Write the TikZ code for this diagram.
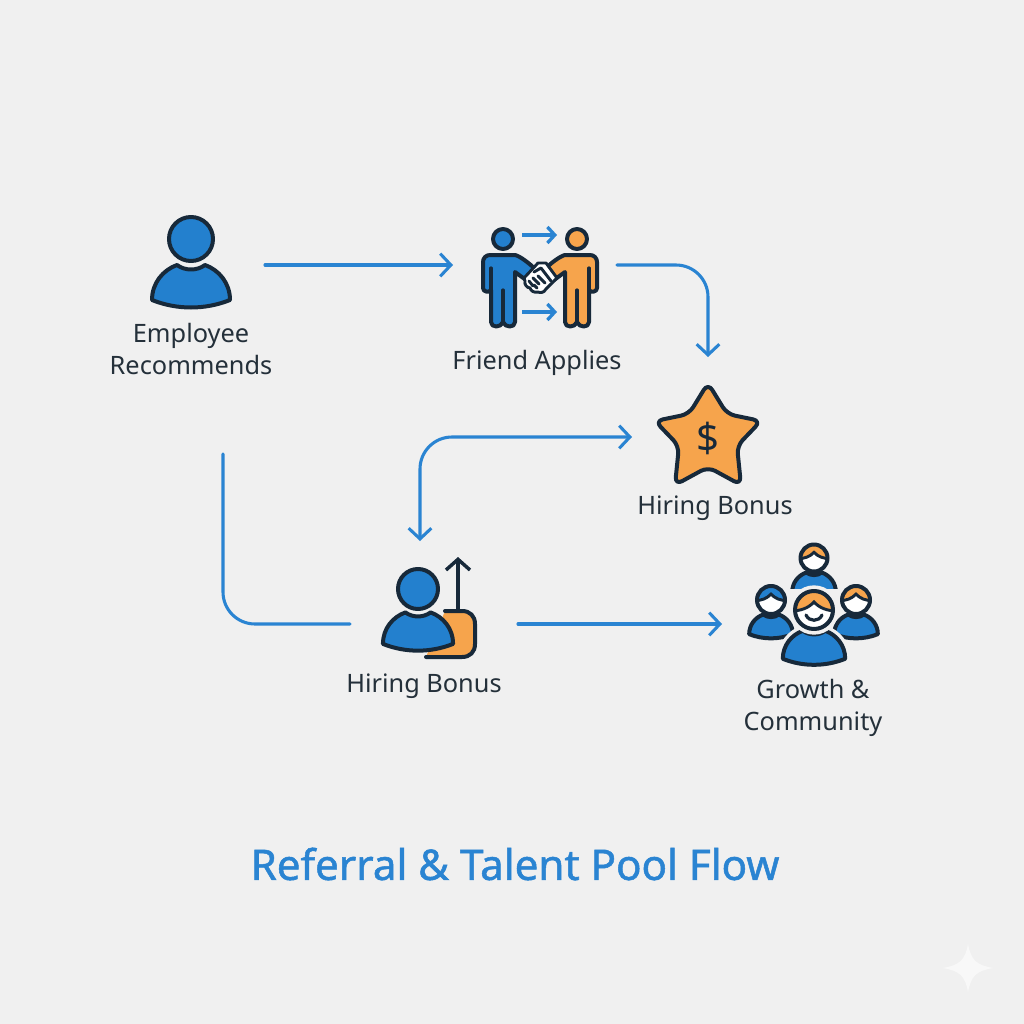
\documentclass[tikz,border=0pt]{standalone}
\usepackage{fontspec}
\setmainfont{Noto Sans}
\newfontfamily\ttlfont[FakeBold=1.2]{Noto Sans}
\usetikzlibrary{arrows.meta}
\definecolor{bgc}{HTML}{F0F0F0}
\definecolor{flow}{HTML}{2A84D2}
\definecolor{blu}{HTML}{2380CE}
\definecolor{org}{HTML}{F6A44C}
\definecolor{ink}{HTML}{17293A}
\definecolor{lab}{HTML}{24303A}
\tikzset{
 flowline/.style={draw=flow,line width=2.3pt,line cap=round,rounded corners=24pt},
 chev/.style={-{Straight Barb[length=8pt,width=17pt,line width=2.3pt]}},
 chevs/.style={{Straight Barb[length=8pt,width=17pt,line width=2.3pt]}-{Straight Barb[length=8pt,width=17pt,line width=2.3pt]}},
 minichev/.style={draw=flow,line width=2.5pt,-{Straight Barb[length=5.5pt,width=12pt,line width=2.5pt]}},
 lbl/.style={font=\fontsize{19}{23.5}\selectfont,text=lab,align=center,inner sep=0pt},
 ttl/.style={font=\ttlfont\fontsize{31.6}{36}\selectfont,text=flow,inner sep=0pt},
 inkl/.style={draw=ink,line width=3pt,line join=round,line cap=round},
 thin ink/.style={draw=ink,line width=2.2pt,line join=round,line cap=round},
}
% x y scale(head radius/22) bodyfill
\newcommand{\bustbody}[4]{%
 \begin{scope}[shift={(#1,#2)},scale=#3]
  \path[fill=#4,inkl] (-39,61) .. controls (-39,44) and (-28,31) .. (-14,26)
   .. controls (-6,32) and (6,32) .. (14,26) .. controls (28,31) and (39,44) .. (39,61)
   .. controls (14,71) and (-14,71) .. (-39,61) -- cycle;
 \end{scope}}
% x y radius haircolour
\newcommand{\hairhead}[4]{%
 \begin{scope}[shift={(#1,#2)},scale=#3]
  \fill[white] (0,0) circle (1);
  \begin{scope}\clip (0,0) circle (1);
   \path[fill=#4,draw=ink,line width=2.2pt] (-1.2,0.05) .. controls (-0.7,0.05) and (-0.3,-0.1) .. (0,-0.42)
    .. controls (0.3,-0.1) and (0.7,0.05) .. (1.2,0.05) -- (1.2,-1.2) -- (-1.2,-1.2) -- cycle;
  \end{scope}
  \draw[inkl] (0,0) circle (1);
 \end{scope}}
\begin{document}
\begin{tikzpicture}[x=0.75pt,y=-0.75pt]
\useasboundingbox (0,0) rectangle (1024,1024);
\fill[bgc] (0,0) rectangle (1024,1024);
% sparkle
\fill[white,opacity=.55] (968,944) .. controls (971,960) and (976,965) .. (993,968) .. controls (976,971) and (971,976) .. (968,992)
 .. controls (965,976) and (960,971) .. (943,968) .. controls (960,965) and (965,960) .. (968,944) -- cycle;

% Employee
\fill[blu] (191,239) circle (22);
\draw[inkl] (191,239) circle (22);
\bustbody{191}{239}{1}{blu}

% Handshake people
\path[fill=blu,inkl] (490,255) -- (515,255) .. controls (520,256) and (530,264) .. (534,268) -- (526,280) -- (515,272)
 -- (515,322) .. controls (515,328) and (505,328) .. (503,322) .. controls (501,328) and (491,328) .. (491,322) -- (491,290)
 .. controls (489,293) and (483,292) .. (483,288) -- (483,262) .. controls (483,258) and (486,255) .. (490,255) -- cycle;
\draw[inkl,line width=2.4pt] (491,268) -- (491,290) (503,290) -- (503,322);
\fill[blu] (503,239) circle (10);
\draw[inkl] (503,239) circle (10);
\path[fill=org,inkl] (590,255) -- (565,255) .. controls (560,256) and (550,264) .. (546,268) -- (554,280) -- (565,272)
 -- (565,322) .. controls (565,328) and (575,328) .. (577,322) .. controls (579,328) and (589,328) .. (589,322) -- (589,290)
 .. controls (591,293) and (597,292) .. (597,288) -- (597,262) .. controls (597,258) and (594,255) .. (590,255) -- cycle;
\draw[inkl,line width=2.4pt] (589,268) -- (589,290) (577,290) -- (577,322);
\fill[org] (577,239) circle (10);
\draw[inkl] (577,239) circle (10);
% handshake
\path[fill=white,thin ink] (538,263) -- (546,263) -- (557,278) -- (546,289) .. controls (544,293) and (540,293) .. (538,292)
 .. controls (534,293) and (531,291) .. (530,288) .. controls (527,288) and (524,284) .. (525,281) -- (524,278) -- cycle;
\draw[thin ink] (534,272) -- (541,268) -- (551,281) (529,281) -- (533,286) (533,278) -- (539,284) (538,276) -- (545,283) (537,288) -- (534,285);
\coordinate (ma) at (522,235); \coordinate (mb) at (557,235);
\coordinate (mc) at (522,312); \coordinate (md) at (557,312);
\draw[minichev] (ma) -- (mb);
\draw[minichev] (mc) -- (md);

% Star
\path[fill=org,inkl,rounded corners=6pt] (708,383) -- (727,414) -- (761,421) -- (737,446) -- (741,485) -- (708,467) -- (675,485) -- (679,446) -- (655,421) -- (689,414) -- cycle;
\node[inner sep=0pt,text=ink,font=\fontsize{30}{30}\selectfont] (dollar) at (708,438) {\$};

% Hiring bonus icon
\path[fill=org,inkl] (445,611) -- (462,611) .. controls (470,611) and (475,616) .. (475,624) -- (475,644) .. controls (475,652) and (470,657) .. (462,657) -- (426,657);
\coordinate (ua) at (458,610); \coordinate (ub) at (458,557);
\draw[inkl,-{Straight Barb[length=8pt,width=18pt,line width=2.6pt]}] (ua) -- (ub);
\fill[blu] (418,589) circle (20);
\draw[inkl] (418,589) circle (20);
\bustbody{418}{589}{.9}{blu}

% Group
\begin{scope}
 \clip (780,560) rectangle (850,588);
 \bustbody{814}{558}{.56}{blu}
\end{scope}
\hairhead{814}{558}{13.5}{org}
\bustbody{771}{600}{.56}{blu}
\hairhead{771}{600}{14}{blu}
\bustbody{856}{600}{.56}{blu}
\hairhead{856}{600}{14}{org}
\begin{scope}[shift={(814,610)},scale=.8]
 \path[fill=blu,draw=bgc,line width=8pt,line join=round] (-39,61) .. controls (-39,44) and (-28,31) .. (-14,26)
   .. controls (-6,32) and (6,32) .. (14,26) .. controls (28,31) and (39,44) .. (39,61)
   .. controls (14,71) and (-14,71) .. (-39,61) -- cycle;
\end{scope}
\bustbody{814}{610}{.8}{blu}
\draw[draw=bgc,line width=4pt] (814,610) circle (22);
\hairhead{814}{610}{19}{org}
\draw[inkl,line width=2.4pt] (806,615) .. controls (809,622) and (819,622) .. (822,615);

% Flow
\coordinate (a1) at (265,265); \coordinate (a2) at (453,265);
\coordinate (b1) at (617,265); \coordinate (b2) at (708,265); \coordinate (b3) at (708,357);
\coordinate (c1) at (632,437); \coordinate (c2) at (420,437); \coordinate (c3) at (420,541);
\coordinate (d1) at (223,454); \coordinate (d2) at (223,624); \coordinate (d3) at (350,624);
\coordinate (e1) at (518,624); \coordinate (e2) at (722,624);
\draw[flowline,chev] (a1) -- (a2);
\draw[flowline,chev] (b1) -- (b2) -- (b3);
\draw[flowline,chevs] (c1) -- (c2) -- (c3);
\draw[flowline] (d1) -- (d2) -- (d3);
\draw[flowline,chev] (e1) -- (e2);

% Labels
\node[lbl] (l1) at (191,349) {Employee\\Recommends};
\node[lbl] (l2) at (537,363) {Friend Applies};
\node[lbl] (l3) at (715,508) {Hiring Bonus};
\node[lbl] (l4) at (424,686) {Hiring Bonus};
\node[lbl] (l5) at (813,708) {Growth \&\\Community};
\node[ttl] (title) at (515,864) {Referral \& Talent Pool Flow};
\end{tikzpicture}
\end{document}
